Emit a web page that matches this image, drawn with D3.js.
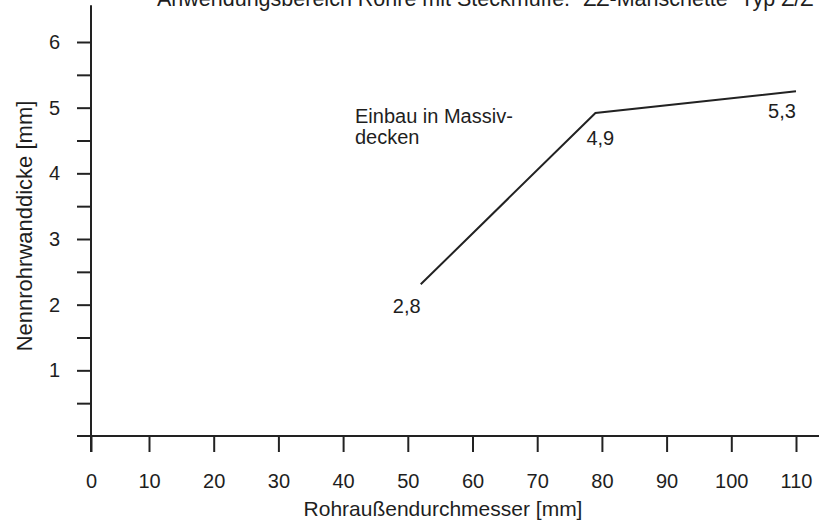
<!DOCTYPE html>
<html>
<head>
<meta charset="utf-8">
<script src="https://cdn.jsdelivr.net/npm/d3@7"></script>
<style>
  body { margin: 0; background: #fff; }
  svg text { font-family: "Liberation Sans", Arial, sans-serif; fill: #1e1e1e; }
  .tick line { stroke: #222; stroke-width: 2; }
</style>
</head>
<body>
<div id="chart"></div>
<script>
// values
const diameters = [52, 79, 110];          // Rohraußendurchmesser [mm]
const thickness = [2.31, 4.92, 5.25];     // Nennrohrwanddicke [mm] (drawn position)
const pointLabels = ["2,8", "4,9", "5,3"];
const xTicks = [0, 10, 20, 30, 40, 50, 60, 70, 80, 90, 100, 110];
const yTicks = [0.5, 1, 1.5, 2, 2.5, 3, 3.5, 4, 4.5, 5, 5.5, 6];
const noteLines = ["Einbau in Massiv-", "decken"];
const title = "Anwendungsbereich Rohre mit Steckmuffe: \u201CZZ-Manschette\u201D Typ Z/Z";

const width = 819;
const height = 524;

const svg = d3.select("#chart").append("svg")
  .attr("width", width)
  .attr("height", height);

// the scan is slightly uneven on the first interval
const x = d3.scaleLinear().domain([0, 10, 110]).range([91, 149, 796]);
const y = d3.scaleLinear().domain([0, 6]).range([436, 42]);

// title, cut at the top edge like in the scan
svg.append("text")
  .attr("x", 157)
  .attr("y", 6)
  .attr("font-size", 21.5)
  .text(title);

// y axis
const yAxis = d3.axisLeft(y)
  .tickValues(yTicks)
  .tickSize(14)
  .tickPadding(17)
  .tickFormat(d => Number.isInteger(d) ? d : "");
const gy = svg.append("g")
  .attr("transform", `translate(${x(0)},0)`)
  .call(yAxis);
gy.select(".domain").remove();
gy.selectAll("text").attr("font-size", 20).attr("fill", "#1e1e1e");

svg.append("line")
  .attr("x1", x(0)).attr("x2", x(0))
  .attr("y1", y(6.56)).attr("y2", 452)
  .attr("stroke", "#222").attr("stroke-width", 2);

// x axis
const xAxis = d3.axisBottom(x)
  .tickValues(xTicks)
  .tickSize(16)
  .tickPadding(22)
  .tickFormat(d => d);
const gx = svg.append("g")
  .attr("transform", `translate(0,${y(0)})`)
  .call(xAxis);
gx.select(".domain").remove();
gx.selectAll("text").attr("font-size", 20).attr("fill", "#1e1e1e");

svg.append("line")
  .attr("x1", 77).attr("x2", width)
  .attr("y1", y(0)).attr("y2", y(0))
  .attr("stroke", "#222").attr("stroke-width", 2);

// axis titles
svg.append("text")
  .attr("x", 443)
  .attr("y", 516)
  .attr("text-anchor", "middle")
  .attr("font-size", 21)
  .text("Rohraußendurchmesser [mm]");

svg.append("text")
  .attr("transform", `translate(32,226) rotate(-90)`)
  .attr("text-anchor", "middle")
  .attr("font-size", 22)
  .text("Nennrohrwanddicke [mm]");

// the line
const pts = diameters.map((d, i) => [d, thickness[i]]);
const line = d3.line().x(d => x(d[0])).y(d => y(d[1]));
svg.append("path")
  .datum(pts)
  .attr("d", line)
  .attr("fill", "none")
  .attr("stroke", "#222")
  .attr("stroke-width", 2);

// value labels
const labelOffsets = [[-14, 29, "middle"], [-9, 32, "start"], [-14, 27, "middle"]];
svg.selectAll(".val")
  .data(pts)
  .enter()
  .append("text")
  .attr("class", "val")
  .attr("x", (d, i) => x(d[0]) + labelOffsets[i][0])
  .attr("y", (d, i) => y(d[1]) + labelOffsets[i][1])
  .attr("text-anchor", (d, i) => labelOffsets[i][2])
  .attr("font-size", 20)
  .text((d, i) => pointLabels[i]);

// note
svg.append("text")
  .attr("x", 355)
  .attr("y", 123)
  .attr("font-size", 20)
  .selectAll("tspan")
  .data(noteLines)
  .enter()
  .append("tspan")
  .attr("x", 355)
  .attr("dy", (d, i) => i ? 20.5 : 0)
  .text(d => d);
</script>
</body>
</html>
